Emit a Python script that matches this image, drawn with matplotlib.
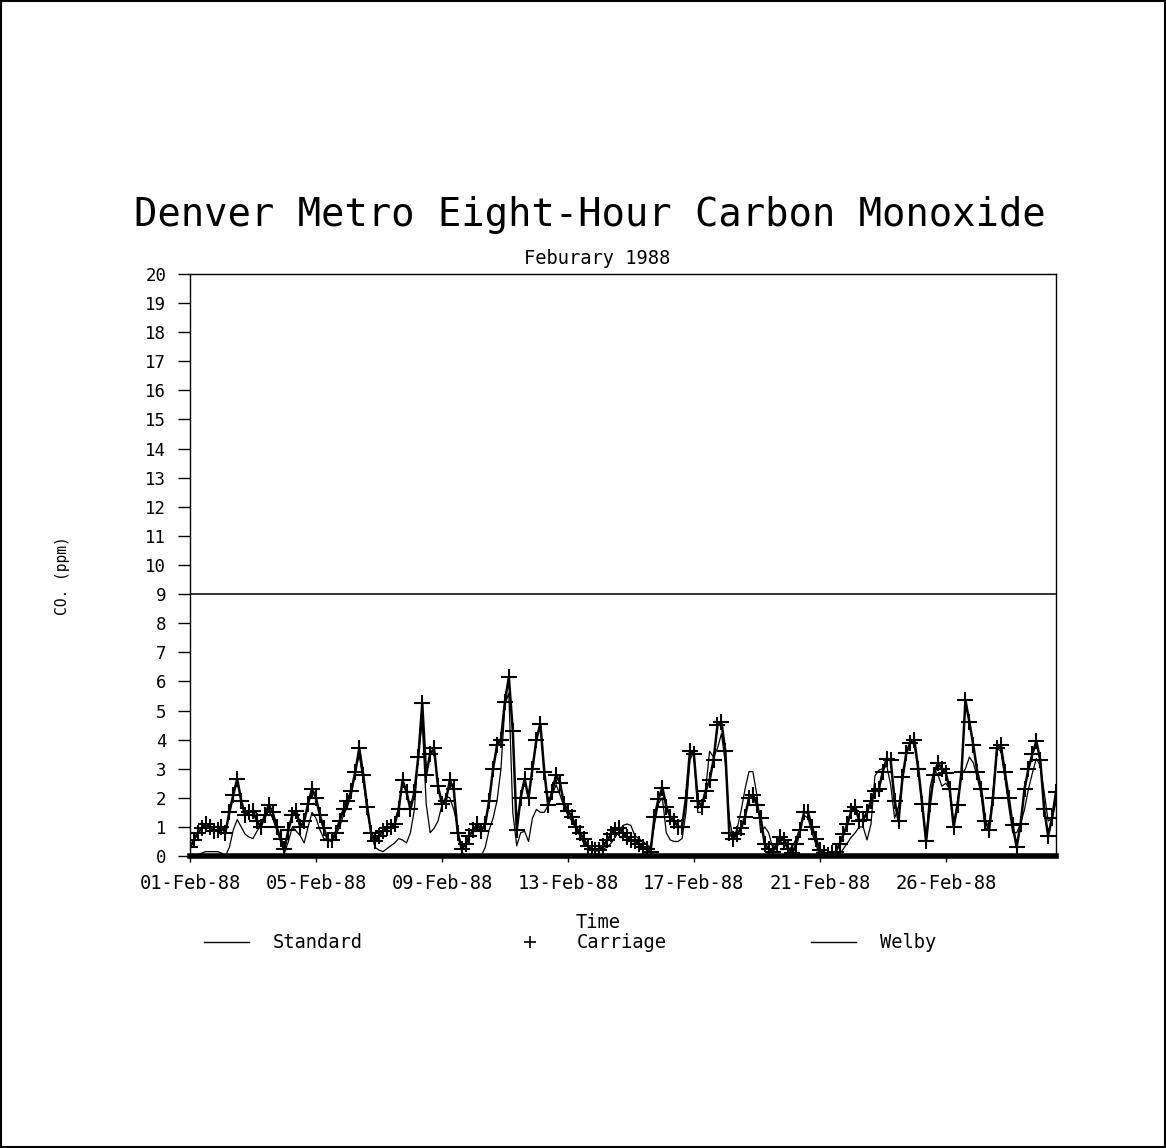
import matplotlib
matplotlib.use("Agg")
import matplotlib.pyplot as plt
from matplotlib.lines import Line2D
from matplotlib.patches import Rectangle
import numpy as np

# eight-hour CO averages (ppm), read every 3 hours from 01-Feb-88 00:00
carriage = [
    0.3, 0.55, 0.8, 0.95, 1.1, 1.0, 0.85, 0.9, 1.0, 0.8,
    1.5, 2.1, 2.65, 1.9, 1.4, 1.5, 1.55, 1.2, 1.0, 1.4,
    1.75, 1.5, 1.0, 0.6, 0.25, 0.9, 1.4, 1.55, 1.0, 1.2,
    1.8, 2.3, 2.0, 1.4, 0.95, 0.55, 0.55, 0.8, 1.2, 1.6,
    1.9, 2.25, 2.9, 3.7, 2.8, 1.7, 0.8, 0.5, 0.7, 0.85,
    0.95, 1.0, 1.1, 1.6, 2.6, 2.2, 1.6, 2.2, 3.4, 5.25,
    2.8, 3.5, 3.7, 2.4, 1.8, 1.9, 2.6, 2.3, 0.8, 0.25,
    0.4, 0.7, 0.9, 1.1, 0.85, 1.1, 1.9, 3.0, 3.8, 4.0,
    5.3, 6.15, 4.3, 0.9, 2.0, 2.65, 2.0, 3.0, 4.0, 4.55,
    2.9, 1.75, 2.2, 2.8, 2.5, 1.8, 1.55, 1.35, 1.0, 0.8,
    0.6, 0.35, 0.25, 0.2, 0.2, 0.35, 0.55, 0.75, 0.9, 0.95,
    0.8, 0.65, 0.55, 0.5, 0.4, 0.3, 0.25, 0.15, 1.35, 1.95,
    2.35, 1.7, 1.35, 1.2, 1.0, 1.0, 2.0, 3.6, 3.5, 1.9,
    1.7, 2.25, 2.6, 3.3, 4.5, 4.6, 3.6, 0.8, 0.6, 0.75,
    0.95, 1.35, 2.0, 2.1, 1.75, 1.3, 0.4, 0.25, 0.15, 0.4,
    0.65, 0.55, 0.25, 0.1, 0.4, 0.9, 1.5, 1.5, 1.0, 0.6,
    0.2, 0.1, 0.05, 0.1, 0.15, 0.4, 0.75, 1.1, 1.55, 1.7,
    1.2, 1.25, 1.5, 1.9, 2.25, 2.3, 2.9, 3.35, 3.3, 1.9,
    1.2, 2.7, 3.55, 3.9, 4.0, 3.0, 1.8, 0.5, 1.8, 2.8,
    3.2, 3.0, 2.85, 2.3, 1.0, 1.75, 2.9, 5.35, 4.6, 3.8,
    2.9, 2.3, 1.2, 0.9, 2.0, 3.7, 3.8, 2.9, 2.0, 1.05,
    0.3, 1.1, 2.3, 3.0, 3.5, 3.95, 3.3, 1.6, 0.7, 1.3,
    2.2,
]
welby = [
    0.0, 0.0, 0.05, 0.1, 0.15, 0.15, 0.15, 0.15, 0.1, 0.0,
    0.3, 0.9, 1.25, 1.0, 0.75, 0.65, 0.6, 0.85, 1.05, 1.3,
    1.55, 1.3, 0.9, 0.5, 0.1, 0.5, 1.0, 0.85, 0.7, 0.45,
    1.0, 1.5, 1.3, 0.9, 0.6, 0.55, 0.5, 0.7, 1.0, 1.4,
    1.7, 2.1, 3.0, 3.45, 2.6, 1.6, 0.8, 0.3, 0.2, 0.15,
    0.25, 0.35, 0.45, 0.6, 0.55, 0.45, 0.8, 1.6, 3.5, 4.6,
    1.8, 0.8, 0.95, 1.2, 1.75, 2.05, 2.0, 1.6, 1.0, 0.15,
    0.0, 0.0, 0.0, 0.0, 0.0, 0.3, 0.9, 1.3, 1.9, 3.0,
    5.2, 5.6, 1.5, 0.35, 0.8, 0.85, 0.5, 1.3, 1.6, 1.5,
    1.5, 1.75, 2.1, 2.45, 2.1, 1.7, 1.4, 1.2, 0.95, 0.7,
    0.45, 0.35, 0.25, 0.2, 0.2, 0.25, 0.3, 0.45, 0.65, 0.85,
    1.05, 1.1, 1.05, 0.7, 0.6, 0.5, 0.4, 0.3, 1.1, 1.8,
    2.0, 0.8, 0.55, 0.5, 0.5, 0.6, 1.5, 3.3, 3.6, 1.5,
    1.5, 2.3, 3.6, 3.4, 3.7, 4.2, 3.2, 1.3, 0.6, 0.95,
    1.55, 2.3, 2.9, 2.9, 2.1, 0.8, 1.0, 0.8, 0.3, 0.3,
    0.5, 0.4, 0.25, 0.3, 0.6, 1.0, 1.4, 1.3, 0.8, 0.4,
    0.0, 0.0, 0.0, 0.0, 0.0, 0.05, 0.25, 0.45, 0.65, 0.8,
    1.0, 1.0, 0.55, 1.1, 2.75, 2.95, 3.0, 3.1, 2.45, 1.3,
    1.7, 2.6, 3.5, 4.0, 3.8, 3.0, 1.7, 0.55, 2.35, 2.95,
    2.8, 2.4, 2.5, 2.3, 1.1, 1.9, 2.8, 3.0, 3.4, 3.2,
    2.7, 2.1, 0.9, 1.0, 2.2, 3.7, 3.6, 2.7, 1.7, 0.8,
    0.8, 1.1, 1.6, 2.3, 2.85, 3.35, 3.1, 2.2, 1.2, 1.3,
    1.85,
]
standard = 9
hours = np.arange(len(carriage)) * 3

tick_hours = [0, 96, 192, 288, 384, 480, 576]
tick_labels = ["01-Feb-88", "05-Feb-88", "09-Feb-88", "13-Feb-88",
               "17-Feb-88", "21-Feb-88", "26-Feb-88"]

mono = "DejaVu Sans Mono"

fig = plt.figure(figsize=(11.66, 11.48), dpi=100)
fig.patches.append(Rectangle((0.001, 0.001), 0.998, 0.998, transform=fig.transFigure,
                             fill=False, lw=1.5, color="black"))
ax = fig.add_axes([190 / 1166, 1 - 856 / 1148, 866 / 1166, 582 / 1148])

ax.axhline(standard, color="black", lw=1.1)
ax.plot(hours, welby, color="black", lw=0.9)
ax.plot(hours, carriage, color="black", lw=1.8, marker="+", ms=12, mew=1.5)

ax.set_xlim(0, 660)
ax.set_ylim(0, 20)
ax.set_yticks(range(0, 21))
ax.set_xticks(tick_hours)
ax.set_xticklabels(tick_labels)
for lab in ax.get_xticklabels():
    lab.set_family(mono)
    lab.set_fontsize(13.5)
for lab in ax.get_yticklabels():
    lab.set_family(mono)
    lab.set_fontsize(12.5)
ax.tick_params(axis="y", direction="out", length=9, width=1, pad=8)
ax.tick_params(axis="x", direction="out", length=4, width=1, pad=9)
for s in ["top", "right", "left"]:
    ax.spines[s].set_linewidth(1)
ax.spines["bottom"].set_linewidth(4)

fig.text(590 / 1166, 1 - 215 / 1148, "Denver Metro Eight-Hour Carbon Monoxide",
         ha="center", va="center", fontsize=28, family=mono)
fig.text(597 / 1166, 1 - 258 / 1148, "Feburary 1988", ha="center", va="center",
         fontsize=13.5, family=mono)
fig.text(598 / 1166, 1 - 922 / 1148, "Time", ha="center", va="center",
         fontsize=13.5, family=mono)
fig.text(63 / 1166, 1 - 576 / 1148, "CO. (ppm)", ha="center", va="center",
         rotation=90, fontsize=10.5, family=mono)

handles = [Line2D([], [], color="black", lw=1),
           Line2D([], [], color="black", ls="none", marker="+", ms=9, mew=1.2),
           Line2D([], [], color="black", lw=1)]
fig.legend(handles, ["Standard", "Carriage", "Welby"], loc="center",
           bbox_to_anchor=(570 / 1166, 1 - 943 / 1148), ncol=3, frameon=False,
           handlelength=2.4, handletextpad=1.28, columnspacing=7.7,
           prop={"family": mono, "size": 13.5})

fig.savefig("out.png", dpi=100)
